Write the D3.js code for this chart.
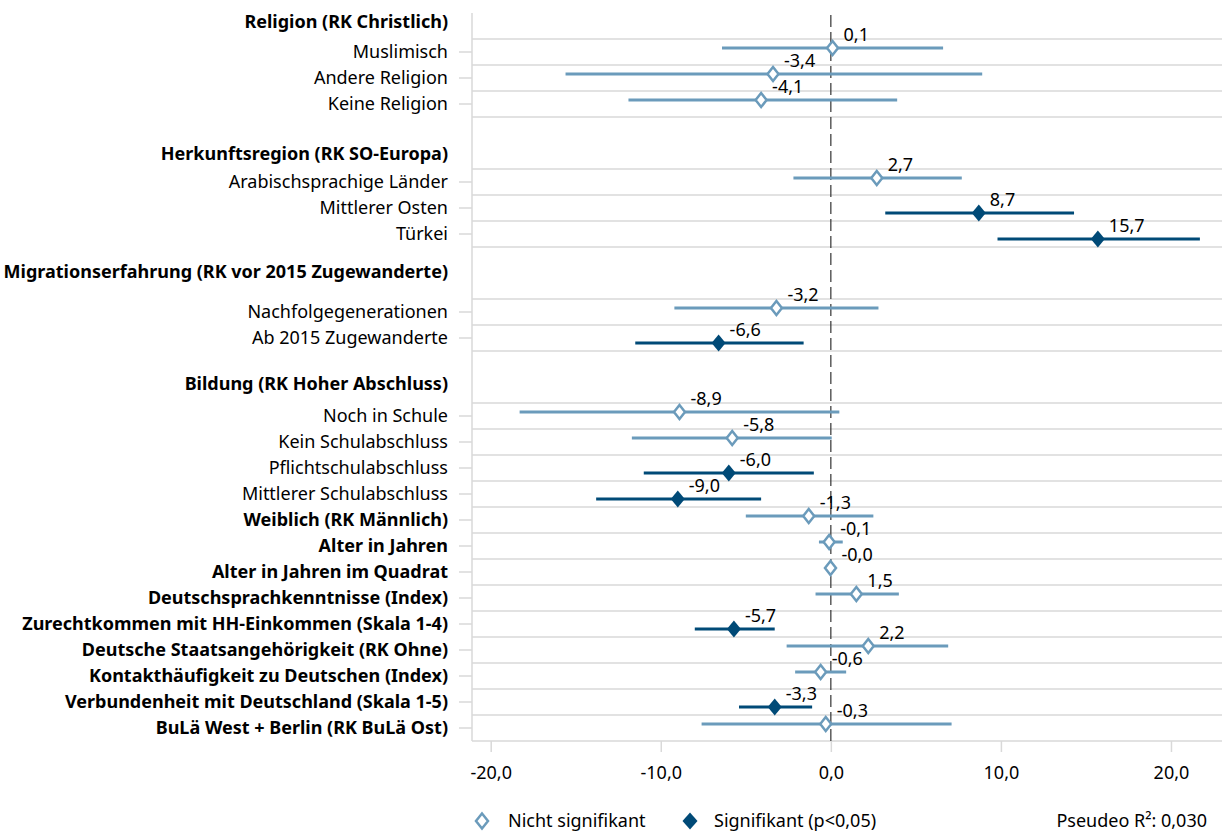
<!DOCTYPE html>
<html>
<head>
<meta charset="utf-8">
<script src="https://cdn.jsdelivr.net/npm/d3@7"></script>
<style>
  body { margin: 0; background: #fff; }
  svg { font-family: "Noto Sans", sans-serif; }
</style>
</head>
<body>
<svg id="chart" width="1222" height="833"></svg>
<script>
// --- Data
const categories = [
  "Muslimisch", "Andere Religion", "Keine Religion",
  "Arabischsprachige Länder", "Mittlerer Osten", "Türkei",
  "Nachfolgegenerationen", "Ab 2015 Zugewanderte",
  "Noch in Schule", "Kein Schulabschluss", "Pflichtschulabschluss", "Mittlerer Schulabschluss",
  "Weiblich (RK Männlich)", "Alter in Jahren", "Alter in Jahren im Quadrat",
  "Deutschsprachkenntnisse (Index)", "Zurechtkommen mit HH-Einkommen (Skala 1-4)",
  "Deutsche Staatsangehörigkeit (RK Ohne)", "Kontakthäufigkeit zu Deutschen (Index)",
  "Verbundenheit mit Deutschland (Skala 1-5)", "BuLä West + Berlin (RK BuLä Ost)"
];
const rowIndex = [2, 3, 4, 7, 8, 9, 12, 13, 16, 17, 18, 19, 20, 21, 22, 23, 24, 25, 26, 27, 28];
const boldCategory = [0, 0, 0, 0, 0, 0, 0, 0, 0, 0, 0, 0, 1, 1, 1, 1, 1, 1, 1, 1, 1];
const estimates = [0.1, -3.4, -4.1, 2.7, 8.7, 15.7, -3.2, -6.6, -8.9, -5.8, -6.0, -9.0,
  -1.3, -0.1, -0.02, 1.5, -5.7, 2.2, -0.6, -3.3, -0.3];
const ciLow = [-6.4, -15.6, -11.9, -2.2, 3.2, 9.8, -9.2, -11.5, -18.3, -11.7, -11.0, -13.8,
  -5.0, -0.7, -0.1, -0.9, -8.0, -2.6, -2.1, -5.4, -7.6];
const ciHigh = [6.6, 8.9, 3.9, 7.7, 14.3, 21.7, 2.8, -1.6, 0.5, 0.05, -1.0, -4.1,
  2.5, 0.7, 0.1, 4.0, -3.3, 6.9, 0.9, -1.1, 7.1];
const significant = [0, 0, 0, 0, 1, 1, 0, 1, 0, 0, 1, 1, 0, 0, 0, 0, 1, 0, 0, 1, 0];

const groupHeaders = ["Religion (RK Christlich)", "Herkunftsregion (RK SO-Europa)",
  "Migrationserfahrung (RK vor 2015 Zugewanderte)", "Bildung (RK Hoher Abschluss)"];
const headerRow = [0.85, 5.9, 10.45, 14.75];

const xTicks = [-20, -10, 0, 10, 20];
const legendLabels = ["Nicht signifikant", "Signifikant (p<0,05)"];
const noteText = "Pseudeo R²: 0,030";

const rows = categories.map((c, i) => ({
  name: c, row: rowIndex[i], bold: boldCategory[i], est: estimates[i],
  lo: ciLow[i], hi: ciHigh[i], sig: significant[i]
}));

// --- Setup
const svg = d3.select("#chart");
const light = "#6b9bbb";
const dark = "#004a77";
const grid = "#d9d9d9";

const x = d3.scaleLinear().domain([-21.1, 23.0]).range([472, 1222]);
const y = d3.scaleLinear().domain([0.5, 28.5]).range([13, 741]);

const loc = d3.formatLocale({decimal: ",", thousands: ".", grouping: [3], currency: ["", "€"], minus: "-"});
const fmt = loc.format(".1f");
// keep the sign of values that round to zero (Excel shows "-0,0")
const fmtValue = v => {
  const s = fmt(v);
  return v < 0 && !s.startsWith("-") ? "-" + s : s;
};

const diamond = (w, h) => `M0,${-h}L${w},0L0,${h}L${-w},0Z`;

// --- Gridlines (row borders of data rows)
const borders = Array.from(new Set(rows.flatMap(d => [d.row - 0.5, d.row + 0.5])));
svg.selectAll(".grid")
  .data(borders)
  .enter()
  .append("line")
  .attr("x1", x.range()[0]).attr("x2", 1222)
  .attr("y1", d => y(d)).attr("y2", d => y(d))
  .attr("stroke", grid)
  .attr("stroke-width", 1.5);

// --- Axes
svg.append("line")
  .attr("x1", x.range()[0]).attr("x2", x.range()[0])
  .attr("y1", y(0.5)).attr("y2", y(28.5))
  .attr("stroke", grid).attr("stroke-width", 1.5);

svg.selectAll(".ytick")
  .data(rows)
  .enter()
  .append("line")
  .attr("x1", x.range()[0] - 13).attr("x2", x.range()[0])
  .attr("y1", d => y(d.row)).attr("y2", d => y(d.row))
  .attr("stroke", grid).attr("stroke-width", 1.5);

const xAxis = svg.append("g")
  .attr("transform", `translate(0,${y(28.5)})`)
  .call(d3.axisBottom(x).tickValues(xTicks).tickSize(11).tickPadding(14).tickFormat(fmt));
xAxis.select(".domain").remove();
xAxis.selectAll(".tick line").attr("stroke", grid).attr("stroke-width", 1.5);
xAxis.selectAll(".tick text")
  .attr("fill", "#000")
  .style("font-size", "18px")
  .style("font-family", "Noto Sans, sans-serif");

// --- Zero reference line
svg.append("line")
  .attr("x1", x(0)).attr("x2", x(0))
  .attr("y1", y(0.5) + 2).attr("y2", y(28.5))
  .attr("stroke", "#333")
  .attr("stroke-width", 1.2)
  .attr("stroke-dasharray", "12,5");

// --- Category labels
svg.selectAll(".catlabel")
  .data(rows)
  .enter()
  .append("text")
  .attr("x", 448)
  .attr("y", d => y(d.row))
  .attr("dy", "0.35em")
  .attr("text-anchor", "end")
  .style("font-size", "18px")
  .style("font-weight", d => d.bold ? 700 : 400)
  .text(d => d.name);

svg.selectAll(".header")
  .data(groupHeaders)
  .enter()
  .append("text")
  .attr("x", 448)
  .attr("y", (d, i) => y(headerRow[i]))
  .attr("dy", "0.35em")
  .attr("text-anchor", "end")
  .style("font-size", "18px")
  .style("font-weight", 700)
  .text(d => d);

// --- Confidence intervals
const yPoint = d => y(d.row) + (d.sig ? 5 : -4);

svg.selectAll(".ci")
  .data(rows)
  .enter()
  .append("line")
  .attr("x1", d => x(d.lo)).attr("x2", d => x(d.hi))
  .attr("y1", yPoint).attr("y2", yPoint)
  .attr("stroke", d => d.sig ? dark : light)
  .attr("stroke-width", 3);

// --- Point estimates
svg.selectAll(".pt")
  .data(rows)
  .enter()
  .append("path")
  .attr("transform", d => `translate(${x(d.est)},${yPoint(d)})`)
  .attr("d", d => d.sig ? diamond(7, 8.5) : diamond(5.5, 7))
  .attr("fill", d => d.sig ? dark : "#fff")
  .attr("stroke", d => d.sig ? "none" : light)
  .attr("stroke-width", 2.5);

svg.selectAll(".val")
  .data(rows)
  .enter()
  .append("text")
  .attr("x", d => x(d.est) + 11)
  .attr("y", d => yPoint(d) - 7)
  .style("font-size", "18px")
  .text(d => fmtValue(d.est));

// --- Legend
const legend = svg.append("g").attr("transform", "translate(0,821)");
legend.append("path")
  .attr("transform", "translate(482,0)")
  .attr("d", diamond(6, 7.5))
  .attr("fill", "#fff").attr("stroke", light).attr("stroke-width", 2.5);
legend.append("text")
  .attr("x", 508).attr("dy", "0.35em")
  .style("font-size", "18px")
  .text(legendLabels[0]);
legend.append("path")
  .attr("transform", "translate(690,0)")
  .attr("d", diamond(7.5, 8.5))
  .attr("fill", dark);
legend.append("text")
  .attr("x", 714).attr("dy", "0.35em")
  .style("font-size", "18px")
  .text(legendLabels[1]);
legend.append("text")
  .attr("x", 1207).attr("dy", "0.35em")
  .attr("text-anchor", "end")
  .style("font-size", "18px")
  .text(noteText);
</script>
</body>
</html>
